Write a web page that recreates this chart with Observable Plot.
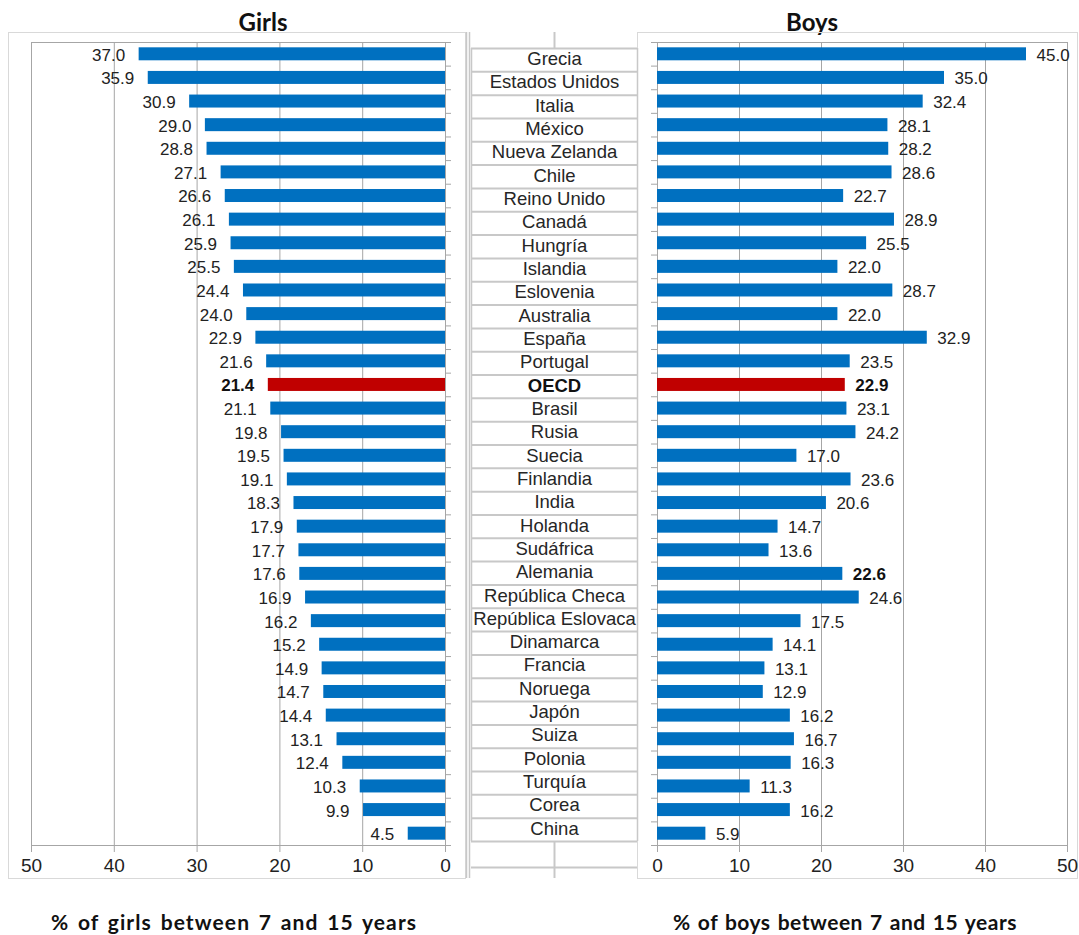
<!DOCTYPE html>
<html>
<head>
<meta charset="utf-8">
<script src="https://cdn.jsdelivr.net/npm/d3@7"></script>
<script src="https://cdn.jsdelivr.net/npm/@observablehq/plot@0.6"></script>
<style>
  body { margin: 0; background: #fff; }
  #chart { position: relative; width: 1079px; height: 935px; font-family: "Liberation Sans", Arial, sans-serif; }
  .box { position: absolute; box-sizing: border-box; border: 1px solid #d9d9d9; }
  .plot { position: absolute; }
  .plot svg { overflow: visible; display: block; }
  .head, .foot { position: absolute; font-family: Lato, "Open Sans", sans-serif; font-weight: bold; color: #111; white-space: nowrap; transform: translateX(-50%); line-height: 1; }
  .head { font-size: 24px; }
  .foot { font-size: 21px; letter-spacing: 1.1px; word-spacing: 2.5px; }
  .foot.narrow { letter-spacing: 0.5px; word-spacing: 1.5px; }
</style>
</head>
<body>
<div id="chart">
  <div class="head" style="left:263px; top:10px;">Girls</div>
  <div class="head" style="left:812px; top:10px;">Boys</div>
  <div class="box" style="left:8px; top:32px; width:458px; height:847px;"></div>
  <div class="box" style="left:637px; top:32px; width:441px; height:847px;"></div>
  <div class="plot" id="girls" style="left:8px; top:32px;"></div>
  <div class="plot" id="names" style="left:465px; top:32px;"></div>
  <div class="plot" id="boys" style="left:637px; top:32px;"></div>
  <div class="foot" style="left:234px; top:911px;">% of girls between 7 and 15 years</div>
  <div class="foot narrow" style="left:845px; top:911px;">% of boys between 7 and 15 years</div>
</div>
<script>
// Countries, top to bottom
const countries = [
  "Grecia", "Estados Unidos", "Italia", "México", "Nueva Zelanda", "Chile",
  "Reino Unido", "Canadá", "Hungría", "Islandia", "Eslovenia", "Australia",
  "España", "Portugal", "OECD", "Brasil", "Rusia", "Suecia", "Finlandia",
  "India", "Holanda", "Sudáfrica", "Alemania", "República Checa",
  "República Eslovaca", "Dinamarca", "Francia", "Noruega", "Japón", "Suiza",
  "Polonia", "Turquía", "Corea", "China"
];

// % of girls between 7 and 15 years
const girls = [
  37.0, 35.9, 30.9, 29.0, 28.8, 27.1, 26.6, 26.1, 25.9, 25.5, 24.4, 24.0,
  22.9, 21.6, 21.4, 21.1, 19.8, 19.5, 19.1, 18.3, 17.9, 17.7, 17.6, 16.9,
  16.2, 15.2, 14.9, 14.7, 14.4, 13.1, 12.4, 10.3, 9.9, 4.5
];

// % of boys between 7 and 15 years
const boys = [
  45.0, 35.0, 32.4, 28.1, 28.2, 28.6, 22.7, 28.9, 25.5, 22.0, 28.7, 22.0,
  32.9, 23.5, 22.9, 23.1, 24.2, 17.0, 23.6, 20.6, 14.7, 13.6, 22.6, 24.6,
  17.5, 14.1, 13.1, 12.9, 16.2, 16.7, 16.3, 11.3, 16.2, 5.9
];

const xTicks = [0, 10, 20, 30, 40, 50];
const average = "OECD";
const boldGirls = ["OECD"];
const boldBoys = ["OECD", "Alemania"];

const rows = countries.map((country, i) => ({country, girls: girls[i], boys: boys[i]}));
const last = rows.slice(-1);

const BLUE = "#0070C0", RED = "#C00000", GRID = "#a6a6a6", INK = "#222";
const H = 846, MT = 10, MB = 33;
const step = (H - MT - MB) / countries.length;
const barFill = d => d.country === average ? RED : BLUE;
const fmt = v => v.toFixed(1);

function side(key, {width, marginLeft, marginRight, reverse, bold, anchor, dx, tickInset}) {
  return Plot.plot({
    width, height: H, marginLeft, marginRight, marginTop: MT, marginBottom: MB,
    x: {domain: [0, 50], reverse, ticks: xTicks, label: null},
    y: {type: "band", domain: countries, paddingInner: 0.45, paddingOuter: 0.225, round: false, axis: null},
    style: {fontFamily: '"Liberation Sans", Arial, sans-serif', color: INK, background: "transparent"},
    marks: [
      Plot.gridX(xTicks.filter(t => t > 0 && t < 50), {stroke: GRID, strokeOpacity: 1}),
      Plot.frame({stroke: GRID}),
      Plot.ruleY(rows, {y: "country", x1: 0, x2: 0, ...tickInset, dy: -step / 2, stroke: GRID}),
      Plot.ruleY(last, {y: "country", x1: 0, x2: 0, ...tickInset, dy: step / 2, stroke: GRID}),
      Plot.barX(rows, {x: key, y: "country", fill: barFill}),
      Plot.text(rows, {filter: d => !bold.includes(d.country), x: key, y: "country", text: d => fmt(d[key]),
        textAnchor: anchor, dx, dy: 1, fontSize: 17, fill: INK}),
      Plot.text(rows, {filter: d => bold.includes(d.country), x: key, y: "country", text: d => fmt(d[key]),
        textAnchor: anchor, dx, dy: 1, fontSize: 17, fontWeight: "bold", fill: "#111"}),
      Plot.axisX(xTicks, {anchor: "bottom", label: null, tickSize: 7, tickPadding: 6, fontSize: 19, stroke: GRID, fill: INK})
    ]
  });
}

document.getElementById("girls").append(side("girls", {
  width: 457, marginLeft: 23, marginRight: 20, reverse: true,
  bold: boldGirls, anchor: "end", dx: -14, tickInset: {insetRight: -6}
}));

document.getElementById("boys").append(side("boys", {
  width: 440, marginLeft: 20, marginRight: 10, reverse: false,
  bold: boldBoys, anchor: "start", dx: 10, tickInset: {insetLeft: -6}
}));

// Country name column between the two panels
const NT = 16, NB = 37, NH = H - NT - NB;
const nameStep = NH / countries.length;
const LINE = "#c8c8c8";
document.getElementById("names").append(Plot.plot({
  width: 173, height: H, marginLeft: 6, marginRight: 1, marginTop: NT, marginBottom: NB,
  x: {domain: [0, 1], axis: null},
  y: {type: "band", domain: countries, padding: 0, round: false, axis: null},
  style: {fontFamily: '"Liberation Sans", Arial, sans-serif', color: INK, background: "transparent"},
  marks: [
    Plot.ruleX([0], {dx: -5, insetTop: -NT, insetBottom: -NB, stroke: LINE, strokeWidth: 1.5}),
    Plot.ruleX([0], {dx: -2, insetTop: -NT, insetBottom: -NB, stroke: LINE, strokeWidth: 1.5}),
    Plot.ruleX([0, 1], {stroke: LINE, strokeWidth: 1.5}),
    Plot.ruleX([0.5], {insetTop: -NT, insetBottom: NH, stroke: LINE, strokeWidth: 2}),
    Plot.ruleX([0.5], {insetTop: NH, insetBottom: -NB, stroke: LINE, strokeWidth: 2}),
    Plot.ruleY(rows, {y: "country", dy: -nameStep / 2, stroke: LINE, strokeWidth: 2}),
    Plot.ruleY(last, {y: "country", dy: nameStep / 2, stroke: LINE, strokeWidth: 2}),
    Plot.ruleY(last, {y: "country", dy: nameStep / 2 + 26, stroke: LINE, strokeWidth: 2}),
    Plot.text(rows, {filter: d => d.country !== average, y: "country", text: "country", fontSize: 18.5, fill: "#262626", dy: -1}),
    Plot.text(rows, {filter: d => d.country === average, y: "country", text: "country", fontSize: 18.5, fontWeight: "bold", fill: "#111", dy: -1})
  ]
}));
</script>
</body>
</html>
